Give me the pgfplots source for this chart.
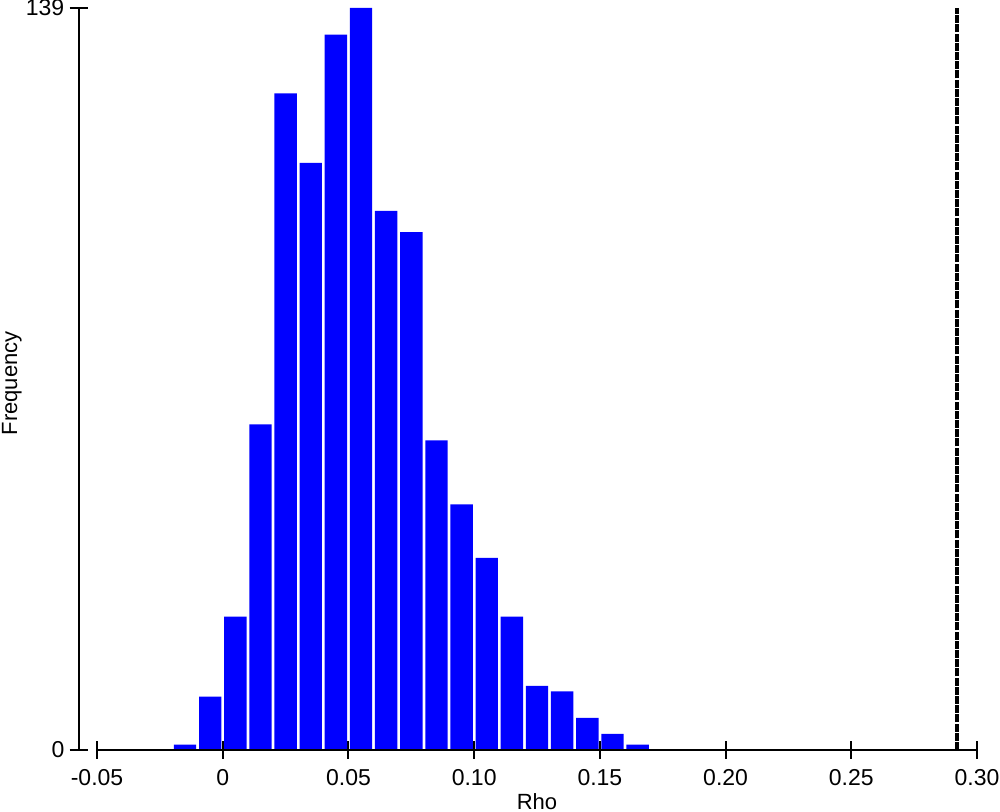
\documentclass[border=0pt]{standalone}
\usepackage{fontspec}
\setmainfont{Liberation Sans}
\usepackage{pgfplots}
\pgfplotsset{compat=1.18}

\begin{document}
\begin{tikzpicture}
\begin{axis}[
    scale only axis,
    width=449.15pt,
    height=371pt,
    xmin=-0.0573, xmax=0.30,
    ymin=0, ymax=139,
    axis x line*=bottom,
    axis y line*=left,
    x axis line style={draw=none},
    axis line style={line width=1pt},
    tick align=center,
    major tick length=9pt,
    every tick/.style={black, line width=1pt},
    xtick={-0.05,0,0.05,0.10,0.15,0.20,0.25,0.30},
    xticklabels={-0.05,0,0.05,0.10,0.15,0.20,0.25,0.30},
    ytick={0,139},
    yticklabels={0,139},
    tick label style={font=\fontsize{11.5}{13}\selectfont},
    xticklabel style={anchor=north, inner sep=0pt, yshift=-5pt},
    yticklabel style={anchor=east, inner sep=0pt, xshift=-2.5pt},
    label style={font=\fontsize{11}{13}\selectfont},
    xlabel={Rho},
    ylabel={Frequency},
    xlabel style={at={(axis description cs:0.5102,0)}, anchor=north, inner sep=0pt, yshift=-21.5pt},
    ylabel style={at={(axis description cs:0,0.494)}, anchor=north, inner sep=0pt, yshift=38.6pt},
    clip=false,
]
% histogram, bins of width 0.01, plotted at bin centres
\addplot[ybar, bar width=0.0089, bar shift=0pt, fill=blue, draw=none] coordinates {
    (-0.015,1) (-0.005,10) (0.005,25) (0.015,61) (0.025,123) (0.035,110)
    (0.045,134) (0.055,139) (0.065,101) (0.075,97) (0.085,58) (0.095,46)
    (0.105,36) (0.115,25) (0.125,12) (0.135,11) (0.145,6) (0.155,3) (0.165,1)
};
% observed value
\addplot[black, line width=2pt, dash pattern=on 4pt off 0.6pt] coordinates {(0.292,0) (0.292,139)};
\draw[line width=1pt] (axis cs:-0.05,0) -- (axis cs:0.30,0);
\end{axis}
\pgfresetboundingbox
\useasboundingbox (current axis.south west) ++(-39.35pt,-31pt) rectangle ++(500pt,406pt);
\end{tikzpicture}
\end{document}
